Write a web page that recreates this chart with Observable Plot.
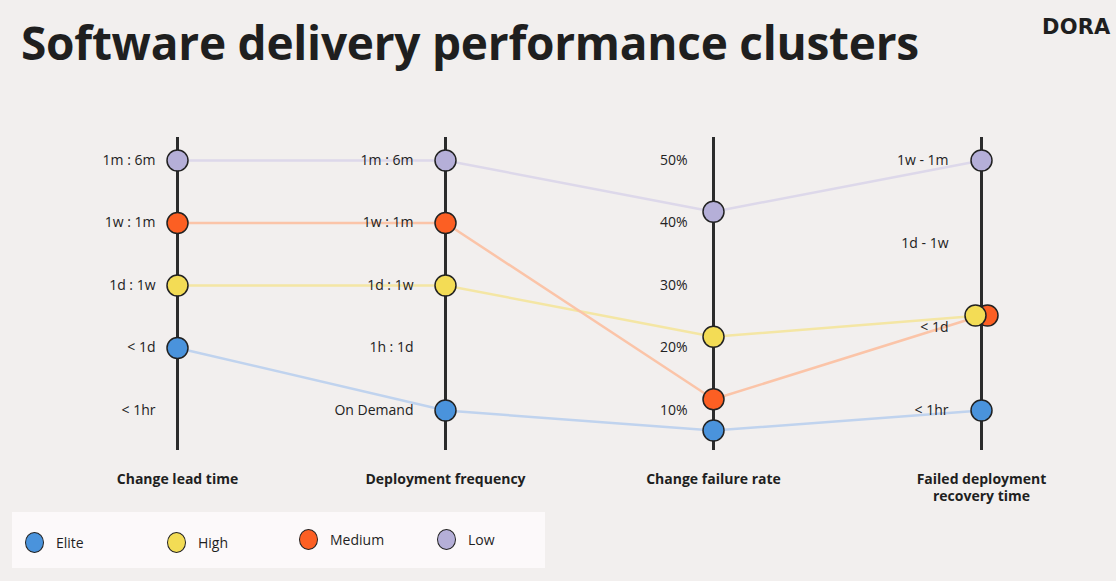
<!DOCTYPE html>
<html><head><meta charset="utf-8">
<script src="https://cdn.jsdelivr.net/npm/d3@7"></script>
<script src="https://cdn.jsdelivr.net/npm/@observablehq/plot@0.6"></script>
<style>
body{margin:0;background:#f2efee;font-family:"Open Sans",sans-serif;color:#1f1f1f;}
#page{position:relative;width:1116px;height:581px;overflow:hidden;background:#f2efee;}
#title{position:absolute;left:21px;top:15px;font-size:46px;font-weight:700;letter-spacing:-0.25px;white-space:nowrap;line-height:1.2;}
#logo{position:absolute;left:1042px;top:15px;font-size:21px;font-weight:900;letter-spacing:0.2px;font-family:"DejaVu Sans",sans-serif;}
#chart{position:absolute;left:0;top:95px;}
#legend{position:absolute;left:12px;top:512px;width:533px;height:56px;background:#fcf9fa;}
.li{position:absolute;display:flex;align-items:center;font-size:14px;}
.li span.c{display:inline-block;width:19px;height:21px;border-radius:50%;border:1.5px solid #222;margin-right:12px;box-sizing:border-box;}
</style></head>
<body><div id="page">
<div id="title">Software delivery performance clusters</div>
<div id="logo">DORA</div>
<div id="chart"></div>
<div id="legend"></div>
</div>
<script>
const clusters = ["Elite", "High", "Medium", "Low"];
const clusterColors = ["#4a93dc", "#f3dc55", "#fc5f23", "#b5afd8"];
const lineColors = ["#c0d3ee", "#f4e6a4", "#fbc4a8", "#ddd8ea"];
const axes = ["Change lead time", "Deployment frequency", "Change failure rate", "Failed deployment recovery time"];
const axisTitles = ["Change lead time", "Deployment frequency", "Change failure rate", "Failed deployment\nrecovery time"];

const leadTimeTicks = ["< 1hr", "< 1d", "1d : 1w", "1w : 1m", "1m : 6m"];
const leadTimeValues = ["< 1d", "1d : 1w", "1w : 1m", "1m : 6m"];          // Elite, High, Medium, Low
const deployFreqTicks = ["On Demand", "1h : 1d", "1d : 1w", "1w : 1m", "1m : 6m"];
const deployFreqValues = ["On Demand", "1d : 1w", "1w : 1m", "1m : 6m"];
const failureRateTicks = [10, 20, 30, 40, 50];
const failureRateValues = [5, 20, 10, 40];                                   // percent
const recoveryTicks = ["< 1hr", "< 1d", "1d - 1w", "1w - 1m"];
const recoveryValues = [0, 1.14, 1.14, 3];                                   // position on the recovery tick scale

// map each axis onto a shared 0..4 level scale
const levelLead = v => leadTimeTicks.indexOf(v);
const levelDeploy = v => deployFreqTicks.indexOf(v);
const levelFailure = v => (v - 8.2) / 10;
const levelRecovery = v => v * 4 / 3;

const rows = [];
clusters.forEach((c, i) => {
  rows.push({cluster: c, axis: axes[0], level: levelLead(leadTimeValues[i])});
  rows.push({cluster: c, axis: axes[1], level: levelDeploy(deployFreqValues[i])});
  rows.push({cluster: c, axis: axes[2], level: levelFailure(failureRateValues[i])});
  rows.push({cluster: c, axis: axes[3], level: levelRecovery(recoveryValues[i])});
});
const isOffset = d => d.axis === axes[3] && (d.cluster === "High" || d.cluster === "Medium");

const font = '"Open Sans", sans-serif';
const tickStyle = {fontSize: 14, fill: "#222", textAnchor: "end"};

const chart = Plot.plot({
  width: 1116, height: 410,
  marginTop: 42, marginBottom: 55, marginLeft: 0, marginRight: 0,
  x: {type: "point", domain: axes, range: [177, 981], padding: 0, axis: null},
  y: {domain: [0, 4], range: [315, 65], axis: null},
  color: {domain: clusters, range: clusterColors},
  style: {background: "transparent", fontFamily: font, overflow: "visible"},
  marks: [
    ...clusters.map((c, i) => Plot.line(rows.filter(d => d.cluster === c), {x: "axis", y: "level", stroke: lineColors[i], strokeWidth: 2.5})),
    Plot.ruleX(axes, {stroke: "#2b2b2b", strokeWidth: 3}),
    Plot.text(leadTimeTicks, {x: () => axes[0], y: d => levelLead(d), text: d => d, dx: -22, ...tickStyle}),
    Plot.text(deployFreqTicks, {x: () => axes[1], y: d => levelDeploy(d), text: d => d, dx: -32, ...tickStyle}),
    Plot.text(failureRateTicks, {x: () => axes[2], y: d => levelFailure(d), text: d => d + "%", dx: -26, dy: 11, ...tickStyle}),
    Plot.text(recoveryTicks, {x: () => axes[3], y: (d, i) => levelRecovery(i), text: d => d, dx: -33, ...tickStyle}),
    Plot.dot(rows.filter(d => !isOffset(d)), {x: "axis", y: "level", fill: "cluster", r: 10.5, stroke: "#222", strokeWidth: 1.5}),
    Plot.dot(rows.filter(d => isOffset(d) && d.cluster === "Medium"), {x: "axis", y: "level", fill: "cluster", r: 10.5, stroke: "#222", strokeWidth: 1.5, dx: 6}),
    Plot.dot(rows.filter(d => isOffset(d) && d.cluster === "High"), {x: "axis", y: "level", fill: "cluster", r: 10.5, stroke: "#222", strokeWidth: 1.5, dx: -6}),
    Plot.text(axes, {x: d => d, text: (d, i) => axisTitles[i], frameAnchor: "bottom", lineAnchor: "top", dy: 22, fontSize: 14, fontWeight: 700, fill: "#1f1f1f", lineHeight: 1.2})
  ]
});
document.getElementById("chart").appendChild(chart);

// legend
const legendX = [23, 165, 297, 435];
const legendY = [31, 31, 28, 28];
const leg = document.getElementById("legend");
clusters.forEach((c, i) => {
  const el = document.createElement("div");
  el.className = "li";
  el.style.left = (legendX[i] - 10) + "px";
  el.style.top = (legendY[i] - 11) + "px";
  el.innerHTML = `<span class="c" style="background:${clusterColors[i]}"></span>${c}`;
  leg.appendChild(el);
});
</script>
</body></html>
